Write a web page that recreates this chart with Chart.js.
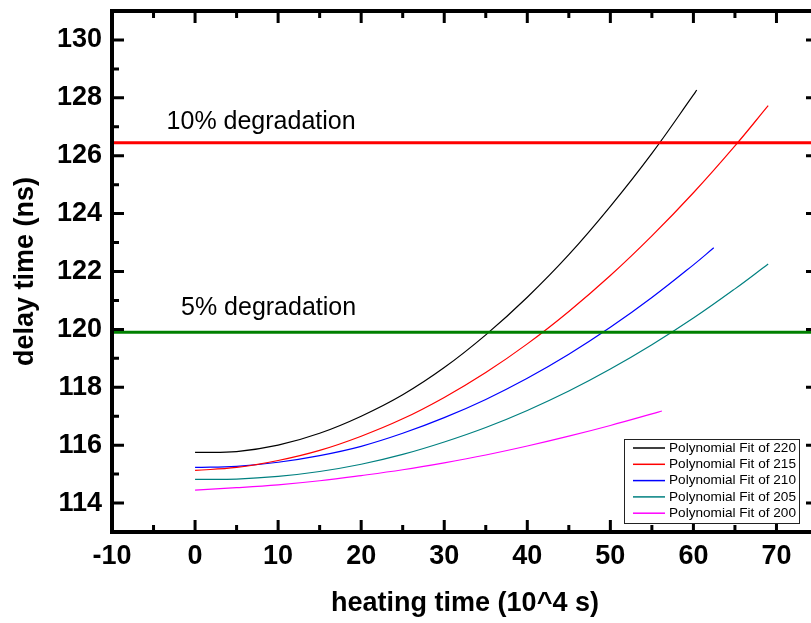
<!DOCTYPE html>
<html>
<head>
<meta charset="utf-8">
<script src="https://cdn.jsdelivr.net/npm/chart.js@4.4.0/dist/chart.umd.min.js"></script>
<style>
  html, body { margin: 0; padding: 0; background: #fff; overflow: hidden; }
  #wrap { width: 811px; height: 623px; overflow: hidden; }
  canvas { display: block; }
</style>
</head>
<body>
<div id="wrap"><canvas id="delayChart" width="832" height="623"></canvas></div>
<script>
// Polynomial fits (heating time in 10^4 s, delay in ns)
const time220 = [0, 5, 10, 15, 20, 25, 30, 35, 40, 45, 50, 55, 60, 60.4];
const delay220 = [115.75, 115.78, 116.00, 116.41, 117.00, 117.74, 118.68, 119.81, 121.11, 122.58, 124.25, 126.08, 128.10, 128.27];

const time215 = [0, 5, 10, 15, 20, 25, 30, 35, 40, 45, 50, 55, 60, 65, 69];
const delay215 = [115.13, 115.23, 115.47, 115.82, 116.31, 116.91, 117.65, 118.51, 119.50, 120.62, 121.86, 123.23, 124.72, 126.34, 127.73];

const time210 = [0, 5, 10, 15, 20, 25, 30, 35, 40, 45, 50, 55, 60, 62.45];
const delay210 = [115.23, 115.27, 115.41, 115.64, 115.96, 116.41, 116.95, 117.58, 118.31, 119.14, 120.07, 121.10, 122.23, 122.82];

const time205 = [0, 5, 10, 15, 20, 25, 30, 35, 40, 45, 50, 55, 60, 65, 69];
const delay205 = [114.82, 114.83, 114.92, 115.09, 115.34, 115.68, 116.11, 116.61, 117.20, 117.87, 118.63, 119.47, 120.39, 121.40, 122.26];

const time200 = [0, 5, 10, 15, 20, 25, 30, 35, 40, 45, 50, 55, 56.2];
const delay200 = [114.45, 114.53, 114.63, 114.77, 114.95, 115.15, 115.39, 115.66, 115.97, 116.31, 116.68, 117.08, 117.18];

// degradation limits
const limitLabels = ['10% degradation', '5% degradation'];
const limitValues = [126.45, 119.9];
const limitColors = ['#ff0000', '#008000'];

// axis ranges
const xRange = [-10, 75];
const yRange = [113, 131];

function toPoints(xs, ys) {
    return xs.map((x, i) => ({ x: x, y: ys[i] }));
}

const fits = [
    { label: 'Polynomial Fit of 220', x: time220, y: delay220, color: '#000000' },
    { label: 'Polynomial Fit of 215', x: time215, y: delay215, color: '#ff0000' },
    { label: 'Polynomial Fit of 210', x: time210, y: delay210, color: '#0000ff' },
    { label: 'Polynomial Fit of 205', x: time205, y: delay205, color: '#008080' },
    { label: 'Polynomial Fit of 200', x: time200, y: delay200, color: '#ff00ff' }
];

const datasets = [];

// horizontal limit lines
limitValues.forEach((v, i) => {
    datasets.push({
        label: limitLabels[i],
        data: [{ x: xRange[0], y: v }, { x: xRange[1], y: v }],
        borderColor: limitColors[i],
        borderWidth: 3,
        pointRadius: 0,
        isLimit: true
    });
});

fits.forEach(f => {
    datasets.push({
        label: f.label,
        data: toPoints(f.x, f.y),
        borderColor: f.color,
        backgroundColor: f.color,
        borderWidth: 1.2,
        pointRadius: 0,
        tension: 0.4
    });
});

// inward ticks on all four sides + the thick frame
const frameTicks = {
    id: 'frameTicks',
    afterDatasetsDraw(chart) {
        const { ctx, chartArea: a, scales } = chart;
        ctx.save();
        ctx.strokeStyle = '#000';
        ctx.lineWidth = 3;
        scales.x.ticks.forEach(t => {
            const px = scales.x.getPixelForValue(t.value);
            const len = t.value % 10 === 0 ? 12 : 7;
            ctx.beginPath();
            ctx.moveTo(px, a.bottom); ctx.lineTo(px, a.bottom - len);
            ctx.moveTo(px, a.top); ctx.lineTo(px, a.top + len);
            ctx.stroke();
        });
        scales.y.ticks.forEach(t => {
            const py = scales.y.getPixelForValue(t.value);
            const len = t.value % 2 === 0 ? 12 : 7;
            ctx.beginPath();
            ctx.moveTo(a.left, py); ctx.lineTo(a.left + len, py);
            ctx.moveTo(a.right, py); ctx.lineTo(a.right - len, py);
            ctx.stroke();
        });
        ctx.lineWidth = 4;
        ctx.strokeRect(a.left, a.top, a.right - a.left, a.bottom - a.top);
        ctx.restore();
    }
};

// text over the limit lines
const limitText = {
    id: 'limitText',
    afterDatasetsDraw(chart, args, opts) {
        const { ctx, scales } = chart;
        ctx.save();
        ctx.fillStyle = '#000';
        ctx.font = '25px "Liberation Sans", Arial, sans-serif';
        ctx.textAlign = 'center';
        ctx.textBaseline = 'alphabetic';
        opts.items.forEach(it => {
            ctx.fillText(it.text, scales.x.getPixelForValue(it.x), scales.y.getPixelForValue(it.y));
        });
        ctx.restore();
    }
};

// boxed legend in the lower right corner
const boxLegend = {
    id: 'boxLegend',
    afterDraw(chart, args, opts) {
        const { ctx } = chart;
        const items = chart.data.datasets.filter(d => !d.isLimit);
        ctx.save();
        ctx.fillStyle = '#fff';
        ctx.fillRect(opts.left, opts.top, opts.width, opts.height);
        ctx.strokeStyle = '#222';
        ctx.lineWidth = 1;
        ctx.strokeRect(opts.left + 0.5, opts.top + 0.5, opts.width, opts.height);
        ctx.font = '13.6px "Liberation Sans", Arial, sans-serif';
        ctx.textBaseline = 'middle';
        ctx.textAlign = 'left';
        items.forEach((d, i) => {
            const y = opts.top + opts.firstRow + i * opts.rowGap;
            ctx.strokeStyle = d.borderColor;
            ctx.lineWidth = 1.5;
            ctx.beginPath();
            ctx.moveTo(opts.left + 9, y);
            ctx.lineTo(opts.left + 41, y);
            ctx.stroke();
            ctx.fillStyle = '#000';
            ctx.fillText(d.label, opts.left + 45, y);
        });
        ctx.restore();
    }
};

const tickFont = { family: '"Liberation Sans", Arial, sans-serif', size: 27, weight: 'bold' };

new Chart(document.getElementById('delayChart'), {
    type: 'line',
    data: { datasets: datasets },
    plugins: [frameTicks, limitText, boxLegend],
    options: {
        responsive: false,
        animation: false,
        devicePixelRatio: 1,
        layout: { padding: { left: 0, right: 14, top: 11, bottom: 0 } },
        plugins: {
            legend: { display: false },
            tooltip: { enabled: false },
            limitText: {
                items: [
                    { text: limitLabels[0], x: 7.95, y: 126.91 },
                    { text: limitLabels[1], x: 8.85, y: 120.5 }
                ]
            },
            boxLegend: { left: 624, top: 439, width: 175, height: 84, firstRow: 9, rowGap: 16.3 }
        },
        scales: {
            x: {
                type: 'linear',
                min: xRange[0],
                max: xRange[1],
                grid: { display: false, drawTicks: false },
                border: { display: false },
                afterFit: s => { s.height = 91; s.paddingLeft = 0; s.paddingRight = 0; },
                ticks: {
                    stepSize: 5,
                    autoSkip: false,
                    maxRotation: 0,
                    padding: 8,
                    color: '#000',
                    font: tickFont,
                    callback: v => (v % 10 === 0 ? v : '')
                },
                title: {
                    display: true,
                    text: 'heating time (10^4 s)',
                    color: '#000',
                    font: tickFont,
                    padding: { top: 0, bottom: 3 }
                }
            },
            y: {
                min: yRange[0],
                max: yRange[1],
                grid: { display: false, drawTicks: false },
                border: { display: false },
                afterFit: s => { s.width = 112; s.paddingTop = 0; s.paddingBottom = 0; },
                ticks: {
                    stepSize: 1,
                    autoSkip: false,
                    padding: 10,
                    color: '#000',
                    font: tickFont,
                    callback: v => (v % 2 === 0 ? v : '')
                },
                title: {
                    display: true,
                    text: 'delay time (ns)',
                    color: '#000',
                    font: tickFont,
                    padding: { top: 9, bottom: 0 }
                }
            }
        }
    }
});
</script>
</body>
</html>
